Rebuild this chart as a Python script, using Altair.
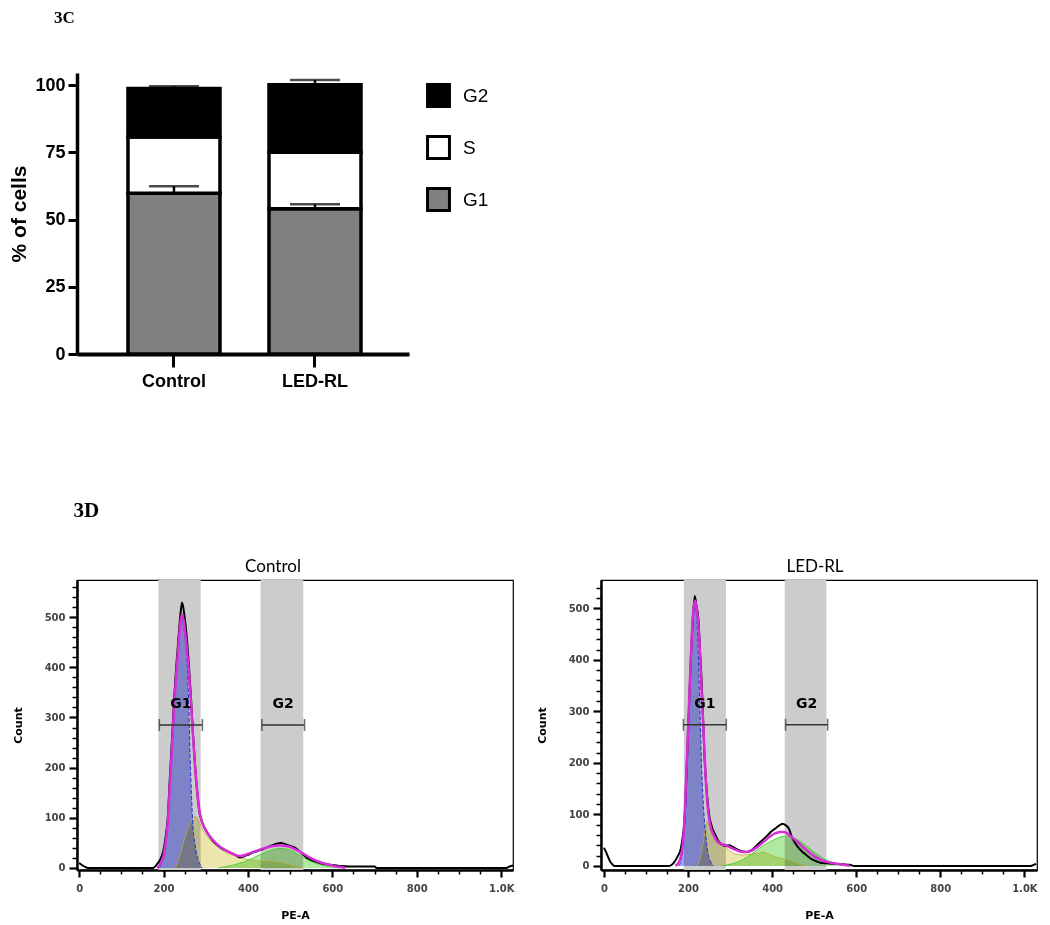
import altair as alt
import pandas as pd

# ---------------- 3C : stacked bars ----------------
categories = ["Control", "LED-RL"]
g1_pct = [59.8, 54.0]
s_pct = [20.9, 21.0]
g2_pct = [18.0, 25.1]
g1_sd = [2.6, 1.7]
g2_sd = [0.9, 1.8]
legend_order = ["G2", "S", "G1"]
phase_colors = ["#000000", "#ffffff", "#808080"]
pct_ticks = [0, 25, 50, 75, 100]

# ---------------- 3D : DNA histograms ----------------
pe_ticks = list(range(0, 1001, 50))
count_ticks = list(range(0, 561, 20))
gate_names = ["G1", "G2"]

# Control
ctrl_band_start = [188, 430]
ctrl_band_end = [288, 531]
ctrl_gate_start = [190, 433]
ctrl_gate_end = [292, 534]
ctrl_gate_y = 285
ctrl_black_x = [0, 5, 10, 15, 20, 170, 175, 185, 195, 200, 205, 210, 215, 220, 225, 230, 235, 240, 244, 250, 255, 260, 265, 270, 275, 280, 285, 290, 300, 310, 320, 330, 340, 350, 360, 370, 380, 390, 400, 410, 420, 430, 440, 450, 460, 470, 478, 490, 500, 510, 520, 530, 540, 550, 560, 570, 580, 590, 600, 610, 620, 640, 700, 705, 1012, 1020, 1028]
ctrl_black_y = [10, 7, 4, 2, 0, 0, 0, 8, 22, 36, 62, 100, 180, 255, 335, 400, 455, 505, 529, 500, 460, 405, 340, 265, 200, 150, 112, 95, 75, 62, 51, 44, 38, 34, 30, 26, 21, 23, 26, 30, 33, 36, 39, 43, 46, 49, 50, 47, 44, 41, 35, 27, 20, 16, 13, 10, 8, 7, 6, 5, 4, 3, 3, 0, 0, 3, 5]
ctrl_fit_x = [185, 195, 200, 205, 210, 215, 220, 225, 230, 235, 240, 244, 250, 255, 260, 265, 270, 275, 280, 285, 290, 300, 310, 320, 330, 340, 350, 360, 370, 380, 390, 400, 410, 420, 430, 440, 450, 460, 470, 480, 490, 500, 510, 520, 530, 540, 550, 560, 570, 580, 590, 600, 610, 620, 630]
ctrl_fit_y = [0, 12, 25, 50, 90, 165, 240, 320, 385, 440, 490, 505, 480, 440, 390, 330, 260, 198, 150, 115, 95, 76, 63, 53, 45, 39, 34, 30, 26, 24, 25, 28, 31, 34, 37, 40, 42, 44, 45, 45, 44, 42, 38, 34, 29, 24, 19, 15, 12, 9, 7, 5, 3, 2, 0]
ctrl_g1_x = [190, 195, 200, 205, 210, 215, 220, 225, 230, 235, 240, 244, 250, 255, 260, 263, 266, 270, 275, 280, 285, 292]
ctrl_g1_y = [0, 8, 22, 48, 88, 160, 235, 315, 380, 435, 485, 500, 465, 420, 320, 220, 150, 80, 45, 22, 10, 0]
ctrl_s_x = [228, 235, 242, 250, 256, 262, 270, 276, 282, 290, 300, 310, 320, 330, 340, 350, 360, 370, 380, 390, 400, 410, 420, 430, 440, 450, 460, 470, 480, 490, 500, 510, 520, 530]
ctrl_s_y = [0, 15, 35, 58, 75, 88, 100, 103, 96, 82, 67, 56, 48, 41, 35, 30, 27, 24, 21, 19, 17, 16, 15, 14, 14, 14, 13, 12, 10, 8, 6, 4, 2, 0]
ctrl_g2_x = [330, 350, 370, 390, 410, 430, 450, 465, 480, 490, 500, 510, 520, 530, 540, 550, 560, 570, 580, 600, 620]
ctrl_g2_y = [0, 3, 7, 12, 19, 27, 34, 38, 39, 38, 36, 32, 27, 22, 17, 13, 10, 7, 5, 2, 0]

# LED-RL
led_band_start = [190, 430]
led_band_end = [290, 529]
led_gate_start = [189, 432]
led_gate_end = [291, 532]
led_gate_y = 274
led_black_x = [0, 5, 10, 15, 20, 25, 155, 165, 175, 183, 188, 192, 195, 198, 201, 204, 207, 211, 216, 220, 225, 229, 233, 236, 239, 244, 250, 257, 265, 272, 280, 287, 298, 310, 320, 330, 340, 350, 360, 370, 380, 390, 400, 410, 418, 425, 432, 440, 447, 455, 462, 470, 480, 492, 505, 515, 530, 550, 570, 585, 595, 1015, 1022, 1028]
led_black_y = [35, 27, 17, 8, 3, 0, 0, 5, 18, 34, 60, 95, 151, 216, 281, 346, 410, 475, 524, 505, 475, 410, 346, 281, 216, 151, 100, 75, 60, 48, 42, 39, 40, 35, 31, 28, 27, 30, 37, 45, 52, 60, 68, 74, 79, 82, 79, 72, 56, 44, 36, 29, 22, 14, 9, 6, 5, 4, 3, 2, 0, 0, 2, 4]
led_fit_x = [170, 180, 188, 192, 196, 200, 204, 208, 212, 217, 222, 226, 230, 234, 238, 242, 246, 250, 255, 262, 270, 280, 290, 300, 310, 320, 330, 340, 350, 360, 370, 380, 390, 400, 410, 420, 428, 436, 445, 455, 465, 477, 490, 500, 510, 520, 530, 540, 555, 570, 585]
led_fit_y = [0, 10, 45, 100, 180, 260, 350, 430, 490, 515, 490, 450, 380, 310, 240, 170, 120, 92, 72, 58, 47, 42, 40, 36, 32, 29, 27, 27, 29, 34, 40, 47, 54, 60, 64, 66, 66, 63, 57, 50, 43, 34, 25, 19, 14, 10, 8, 6, 4, 2, 0]
led_g1_x = [178, 184, 188, 192, 196, 200, 204, 208, 212, 217, 221, 225, 229, 232, 235, 239, 243, 248, 254, 260]
led_g1_y = [0, 15, 45, 100, 180, 260, 345, 425, 485, 505, 480, 400, 285, 200, 140, 88, 52, 22, 8, 0]
led_s_x = [222, 228, 234, 240, 245, 250, 256, 262, 270, 280, 290, 300, 310, 320, 330, 340, 350, 360, 370, 380, 390, 400, 410, 420, 430, 440, 450, 462, 477]
led_s_y = [0, 12, 35, 65, 86, 78, 62, 52, 44, 40, 37, 28, 24, 22, 21, 22, 23, 24, 25, 27, 23, 20, 17, 15, 13, 11, 8, 4, 0]
led_g2_x = [280, 300, 320, 340, 360, 380, 400, 420, 436, 450, 462, 475, 490, 500, 510, 523, 535, 545, 553, 565, 578]
led_g2_y = [0, 3, 8, 17, 28, 40, 49, 56, 58, 55, 50, 43, 33, 27, 21, 14, 9, 6, 4, 2, 0]

# ================= 3C chart =================
rows = []
for i, grp in enumerate(categories):
    lo = 0.0
    for ph, vals in (("G1", g1_pct), ("S", s_pct), ("G2", g2_pct)):
        rows.append({"group": grp, "phase": ph, "lo": lo, "hi": lo + vals[i]})
        lo += vals[i]
bars_df = pd.DataFrame(rows)

err_rows = []
for i, grp in enumerate(categories):
    top1 = g1_pct[i]
    top3 = g1_pct[i] + s_pct[i] + g2_pct[i]
    err_rows.append({"group": grp, "top": top1, "cap": top1 + g1_sd[i]})
    err_rows.append({"group": grp, "top": top3, "cap": top3 + g2_sd[i]})
err_df = pd.DataFrame(err_rows)

bar_font = "Liberation Sans"
x_bar = alt.X(
    "group:N", sort=categories,
    scale=alt.Scale(domain=categories, paddingInner=0.3475, paddingOuter=0.351, align=0.515),
    axis=alt.Axis(title="", labelAngle=0, labelFont=bar_font, labelFontSize=18,
                  labelFontWeight="bold", labelColor="black", tickSize=13, tickWidth=3,
                  tickColor="black", domainWidth=4, domainColor="black", labelPadding=5,
                  grid=False),
)
y_scale_bar = alt.Scale(domain=[0, 104.5], nice=False)
y_axis_bar = alt.Axis(values=pct_ticks, title="% of cells", titleFont=bar_font,
                      titleFontSize=21, titleFontWeight="bold", titleColor="black",
                      titlePadding=5, labelFont=bar_font, labelFontSize=18,
                      labelFontWeight="bold", labelColor="black", tickSize=9, tickWidth=3,
                      tickColor="black", domainWidth=3.5, domainColor="black",
                      labelPadding=3, grid=False)

bars = alt.Chart(bars_df).mark_bar(stroke="black", strokeWidth=3.5).encode(
    x=x_bar,
    y=alt.Y("hi:Q", scale=y_scale_bar, axis=y_axis_bar),
    y2="lo:Q",
    color=alt.Color("phase:N", scale=alt.Scale(domain=legend_order, range=phase_colors),
                    legend=alt.Legend(orient="none", legendX=349, legendY=10, title="",
                                      symbolType="square", symbolSize=480,
                                      symbolStrokeWidth=3, symbolStrokeColor="black",
                                      symbolOpacity=1, labelFont=bar_font,
                                      labelFontSize=19, labelColor="black",
                                      labelOffset=12, rowPadding=17, padding=0)),
)
stems = alt.Chart(err_df).mark_rule(color="black", strokeWidth=2.5).encode(
    x=x_bar, y=alt.Y("top:Q", scale=y_scale_bar, axis=y_axis_bar), y2="cap:Q")
caps = alt.Chart(err_df).mark_tick(color="black", thickness=2.5, size=50).encode(
    x=x_bar, y=alt.Y("cap:Q", scale=y_scale_bar, axis=y_axis_bar))

top_chart = alt.layer(bars, stems, caps).properties(
    width=332, height=281,
    title=alt.TitleParams("3C", anchor="start", frame="group", dx=-23, offset=46,
                          font="Liberation Serif", fontSize=17, fontWeight="bold",
                          color="black"),
    view=alt.ViewBackground(stroke="transparent"),
)

# ================= 3D charts =================
major_x = "datum.value % 200 === 0"
major_y = "datum.value % 100 === 0"
hist_label_font = "DejaVu Sans"


def histogram(title, title_dx, xdom, ydom, bands, gates, gate_y, black, fit, g1, s, g2):
    xs = alt.Scale(domain=xdom, nice=False, zero=False)
    ys = alt.Scale(domain=ydom, nice=False, zero=False)
    xaxis = alt.Axis(
        title="PE-A", values=pe_ticks,
        labelExpr="datum.value % 200 === 0 ? (datum.value >= 1000 ? '1.0K' : datum.value + '') : ''",
        tickSize={"condition": {"test": major_x, "value": 7}, "value": 4},
        tickWidth={"condition": {"test": major_x, "value": 2.2}, "value": 1.5},
        tickColor="black", domainColor="black", domainWidth=2.5,
        labelFont=hist_label_font, labelFontSize=10, labelFontWeight="bold",
        labelColor="#444444", labelPadding=6, titleFont=hist_label_font,
        titleFontSize=11, titleFontWeight="bold", titleColor="black",
        titlePadding=16, grid=False, labelFlush=False)
    yaxis = alt.Axis(
        title="Count", values=count_ticks,
        labelExpr="datum.value % 100 === 0 ? datum.value + '' : ''",
        tickSize={"condition": {"test": major_y, "value": 8}, "value": 5},
        tickWidth={"condition": {"test": major_y, "value": 2.2}, "value": 1.5},
        tickColor="black", domainColor="black", domainWidth=2.5,
        labelFont=hist_label_font, labelFontSize=10, labelFontWeight="bold",
        labelColor="#444444", labelPadding=4, titleFont=hist_label_font,
        titleFontSize=11, titleFontWeight="bold", titleColor="black",
        titlePadding=21, grid=False)

    def X(f):
        return alt.X(f, type="quantitative", scale=xs, axis=xaxis)

    def Y(f):
        return alt.Y(f, type="quantitative", scale=ys, axis=yaxis)

    band_df = pd.DataFrame({"b0": bands[0], "b1": bands[1]})
    gate_df = pd.DataFrame({"g0": gates[0], "g1": gates[1], "gy": [gate_y] * len(gates[0]),
                            "name": gate_names})
    gate_df["mid"] = (gate_df["g0"] + gate_df["g1"]) / 2
    end_df = pd.DataFrame({"v": gates[0] + gates[1], "c": [gate_y] * (2 * len(gates[0]))})

    def df(xy):
        return pd.DataFrame({"v": xy[0], "c": xy[1]})

    layers = [
        alt.Chart(band_df).mark_rect(color="#cccccc").encode(x=X("b0"), x2="b1"),
        alt.Chart(df(g1)).mark_area(color="#9ea4fa", blend="multiply", interpolate="monotone").encode(x=X("v"), y=Y("c")),
        alt.Chart(df(s)).mark_area(color="#ece6ae", blend="multiply", interpolate="monotone").encode(x=X("v"), y=Y("c")),
        alt.Chart(df(g2)).mark_area(color="#b0eaa0", blend="multiply", interpolate="monotone").encode(x=X("v"), y=Y("c")),
        alt.Chart(df(s)).mark_line(color="#b5aa3c", strokeWidth=0.8, interpolate="monotone").encode(x=X("v"), y=Y("c")),
        alt.Chart(df(g2)).mark_line(color="#4fcf34", strokeWidth=1, interpolate="monotone").encode(x=X("v"), y=Y("c")),
        alt.Chart(df(g1)).mark_line(color="#2233cc", strokeWidth=1, strokeDash=[4, 2], interpolate="monotone").encode(x=X("v"), y=Y("c")),
        alt.Chart(df(black)).mark_line(color="black", strokeWidth=2, interpolate="monotone").encode(x=X("v"), y=Y("c")),
        alt.Chart(df(fit)).mark_line(color="#d82cd8", strokeWidth=2.5, interpolate="monotone").encode(x=X("v"), y=Y("c")),
        alt.Chart(gate_df).mark_rule(color="#333333", strokeWidth=1.6).encode(x=X("g0"), x2="g1", y=Y("gy")),
        alt.Chart(end_df).mark_tick(color="#333333", orient="vertical", size=12, thickness=1.6).encode(x=X("v"), y=Y("c")),
        alt.Chart(gate_df).mark_text(font=hist_label_font, fontSize=14, fontWeight="bold", color="black", dy=-21).encode(x=X("mid"), y=Y("gy"), text="name:N"),
    ]
    return alt.layer(*layers).properties(
        width=436, height=290,
        title=alt.TitleParams(title, font="Lato", fontSize=17, fontWeight="normal",
                              color="black", dx=title_dx, offset=4),
        view=alt.ViewBackground(stroke="black", strokeWidth=1.2),
    )


h_ctrl = histogram("Control", -22, [-5, 1028], [-4, 574],
                   (ctrl_band_start, ctrl_band_end), (ctrl_gate_start, ctrl_gate_end), ctrl_gate_y,
                   (ctrl_black_x, ctrl_black_y), (ctrl_fit_x, ctrl_fit_y),
                   (ctrl_g1_x, ctrl_g1_y), (ctrl_s_x, ctrl_s_y), (ctrl_g2_x, ctrl_g2_y))
h_led = histogram("LED-RL", -4, [-7, 1030], [-8, 555],
                  (led_band_start, led_band_end), (led_gate_start, led_gate_end), led_gate_y,
                  (led_black_x, led_black_y), (led_fit_x, led_fit_y),
                  (led_g1_x, led_g1_y), (led_s_x, led_s_y), (led_g2_x, led_g2_y))

bottom = alt.hconcat(h_ctrl, h_led, spacing=17).properties(
    title=alt.TitleParams("3D", anchor="start", dx=62, offset=36,
                          font="Liberation Serif", fontSize=21, fontWeight="bold",
                          color="black"))

chart = alt.concat(top_chart, bottom, columns=1, align="none", spacing=109).properties(
    padding=0, background="white")

chart.save("out.html", embed_options={"renderer": "svg", "actions": False})
